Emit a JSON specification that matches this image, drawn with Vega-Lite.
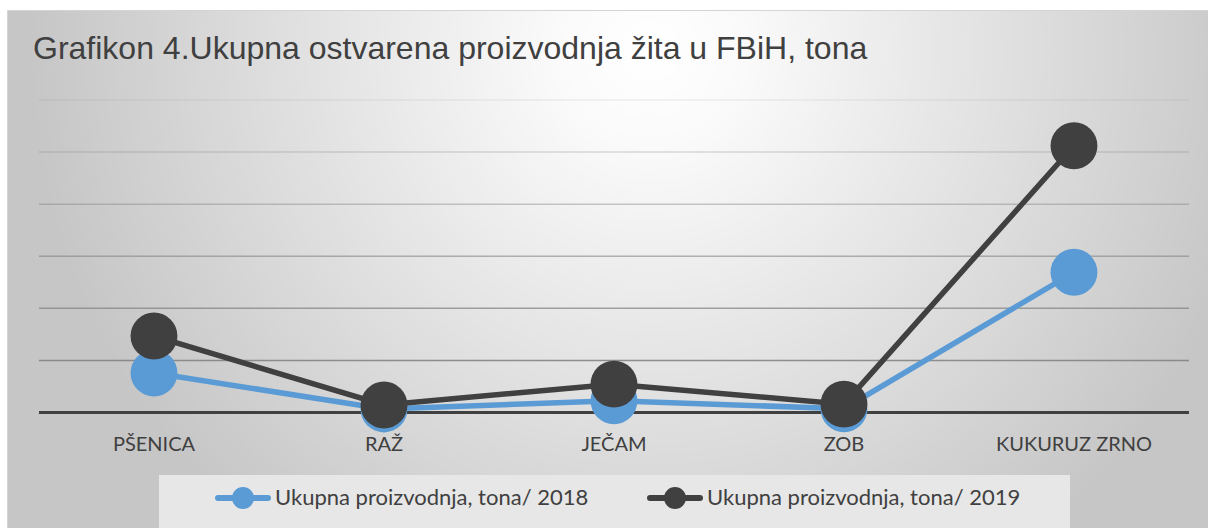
{
  "$schema": "https://vega.github.io/schema/vega-lite/v6.json",
  "autosize": {"type": "none"},
  "padding": {"left": 7, "top": 10, "right": 0, "bottom": 0},
  "width": 1201,
  "height": 518,
  "background": "#ffffff",
  "title": {
    "text": "Grafikon 4.Ukupna ostvarena proizvodnja  žita u FBiH, tona",
    "anchor": "start",
    "frame": "group",
    "orient": "top",
    "offset": -56,
    "dx": 26,
    "font": "Liberation Sans",
    "fontSize": 32,
    "fontWeight": "normal",
    "color": "#404040"
  },
  "datasets": {
    "main": [
      {"cat": "PŠENICA", "series": "Ukupna proizvodnja, tona/ 2018", "value": 37900},
      {"cat": "RAŽ", "series": "Ukupna proizvodnja, tona/ 2018", "value": 3400},
      {"cat": "JEČAM", "series": "Ukupna proizvodnja, tona/ 2018", "value": 11300},
      {"cat": "ZOB", "series": "Ukupna proizvodnja, tona/ 2018", "value": 3600},
      {"cat": "KUKURUZ ZRNO", "series": "Ukupna proizvodnja, tona/ 2018", "value": 134600},
      {"cat": "PŠENICA", "series": "Ukupna proizvodnja, tona/ 2019", "value": 73400},
      {"cat": "RAŽ", "series": "Ukupna proizvodnja, tona/ 2019", "value": 7200},
      {"cat": "JEČAM", "series": "Ukupna proizvodnja, tona/ 2019", "value": 27200},
      {"cat": "ZOB", "series": "Ukupna proizvodnja, tona/ 2019", "value": 8000},
      {"cat": "KUKURUZ ZRNO", "series": "Ukupna proizvodnja, tona/ 2019", "value": 256100}
    ],
    "grid": [
      {"v": 0}, {"v": 50000}, {"v": 100000}, {"v": 150000}, {"v": 200000}, {"v": 250000}, {"v": 300000}
    ]
  },
  "layer": [
    {
      "data": {"name": "grid"},
      "transform": [{"filter": "datum.v > 0"}],
      "mark": {"type": "rule", "stroke": "#7f7f7f", "strokeWidth": 1.5, "strokeOpacity": {"expr": "1 - datum.v / 340000"}},
      "encoding": {
        "x": {"datum": "PŠENICA", "type": "nominal", "bandPosition": 0},
        "x2": {"datum": "KUKURUZ ZRNO", "bandPosition": 1},
        "y": {"field": "v", "type": "quantitative", "axis": null}
      }
    },
    {
      "data": {"name": "grid"},
      "transform": [{"filter": "datum.v == 0"}],
      "mark": {"type": "rule", "stroke": "#404040", "strokeWidth": 3},
      "encoding": {
        "x": {"datum": "PŠENICA", "type": "nominal", "bandPosition": 0},
        "x2": {"datum": "KUKURUZ ZRNO", "bandPosition": 1},
        "y": {"field": "v", "type": "quantitative", "axis": null}
      }
    },
    {
      "data": {"name": "main"},
      "mark": {"type": "line", "strokeWidth": 5.5},
      "encoding": {
        "x": {"field": "cat", "type": "nominal", "bandPosition": 0.5},
        "y": {"field": "value", "type": "quantitative", "axis": null},
        "color": {
          "field": "series",
          "type": "nominal",
          "scale": {"domain": ["Ukupna proizvodnja, tona/ 2018", "Ukupna proizvodnja, tona/ 2019"], "range": ["#5b9bd5", "#404040"]},
          "legend": {
            "orient": "none",
            "legendX": 152,
            "legendY": 465,
            "direction": "horizontal",
            "title": " ",
            "titleOrient": "right",
            "titlePadding": 40,
            "titleFontSize": 8,
            "padding": 10,
            "fillColor": "#e7e7e7",
            "strokeColor": null,
            "symbolType": "M-1.3 0M3.6 0H5.3A0.8 0.8 0 1 1 6.9 0H8.6M6.9 0A0.8 0.8 0 1 1 5.3 0Z",
            "symbolSize": 400,
            "symbolStrokeWidth": 6,
            "labelFont": "Lato",
            "labelFontSize": 22,
            "labelColor": "#404040",
            "labelOffset": 80,
            "labelLimit": 500,
            "columnPadding": 0,
            "encode": {
              "symbols": {
                "update": {
                  "fill": {"scale": "color", "field": "value"},
                  "stroke": {"scale": "color", "field": "value"},
                  "strokeWidth": {"value": 6},
                  "strokeCap": {"value": "round"},
                  "opacity": {"value": 1}
                }
              }
            }
          }
        }
      }
    },
    {
      "data": {"name": "main"},
      "mark": {"type": "point", "filled": true, "shape": "circle", "size": 2200, "opacity": 1},
      "encoding": {
        "x": {"field": "cat", "type": "nominal", "bandPosition": 0.5},
        "y": {"field": "value", "type": "quantitative", "axis": null},
        "color": {"field": "series", "type": "nominal"}
      }
    }
  ],
  "resolve": {"scale": {"x": "shared", "y": "shared"}},
  "encoding": {
    "x": {
      "scale": {"type": "band", "domain": ["PŠENICA", "RAŽ", "JEČAM", "ZOB", "KUKURUZ ZRNO"], "paddingInner": 0, "paddingOuter": 0.1109, "align": 0.627},
      "axis": {"title": null, "domain": false, "ticks": false, "grid": false, "offset": -115.5, "labelPadding": 22, "labelFont": "Lato", "labelFontSize": 20, "labelColor": "#404040", "labelAngle": 0}
    },
    "y": {"scale": {"domain": [-110900, 386400], "nice": false, "zero": false}}
  },
  "config": {
    "view": {
      "stroke": "#d4d4d4",
      "strokeWidth": 1,
      "fill": {
        "gradient": "radial",
        "x1": 0.535, "y1": 0.318, "r1": 0,
        "x2": 0.535, "y2": 0.318, "r2": 0.516,
        "stops": [
          {"offset": 0, "color": "#ffffff"},
          {"offset": 0.15, "color": "#fafafa"},
          {"offset": 1, "color": "#c6c6c6"}
        ]
      }
    },
    "axisX": {"title": null, "domain": false, "ticks": false, "grid": false, "offset": -115.5, "labelPadding": 22, "labelFont": "Lato", "labelFontSize": 20, "labelColor": "#404040", "labelAngle": 0}
  }
}
